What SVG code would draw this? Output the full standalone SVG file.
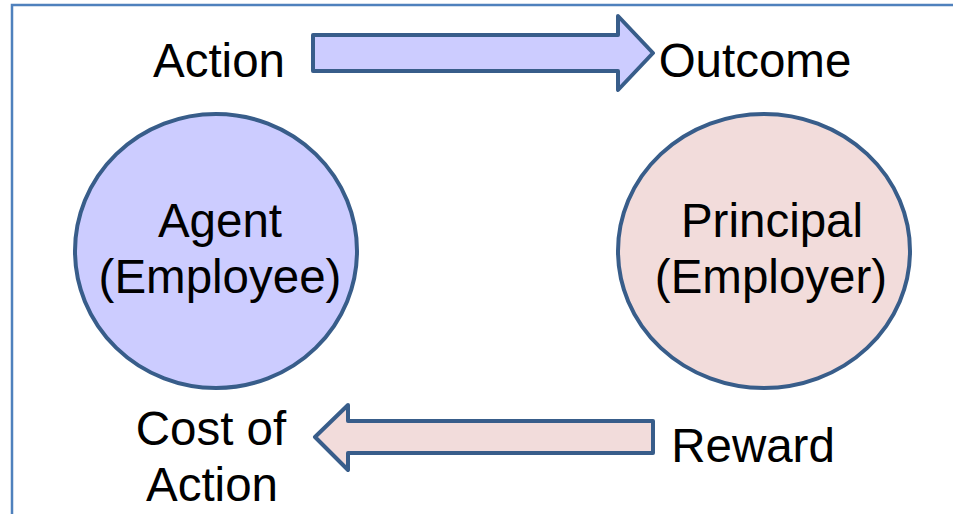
<svg xmlns="http://www.w3.org/2000/svg" width="953" height="514" viewBox="0 0 953 514">
<style>
.t{font-family:"Liberation Sans",Arial,sans-serif;font-size:47.5px;fill:#000;text-anchor:middle}
.node{stroke:#385D8A;stroke-width:4}
.arr{stroke:#385D8A;stroke-width:4;stroke-linejoin:round}
</style>
<rect width="953" height="514" fill="#fff"/>
<g id="frame" fill="none" stroke="#4F81BD" stroke-width="2.5">
<path d="M12,514 V5 H953"/>
</g>
<g id="connectors">
<path class="arr" fill="#CCCCFF" d="M313,35 H618 V16 L653,53 L618,90 V71 H313 Z"/>
<path class="arr" fill="#F2DCDB" d="M653,421 H348 V405 L315,437 L348,470 V453 H653 Z"/>
</g>
<g id="agent">
<ellipse class="node" cx="216" cy="251" rx="141" ry="137" fill="#CCCCFF"/>
<text class="t" x="220" y="237">Agent</text>
<text class="t" x="220" y="293">(Employee)</text>
</g>
<g id="principal">
<ellipse class="node" cx="764" cy="251" rx="146" ry="137" fill="#F2DCDB"/>
<text class="t" x="772" y="237">Principal</text>
<text class="t" x="771" y="293">(Employer)</text>
</g>
<g id="action"><text class="t" x="219" y="77">Action</text></g>
<g id="outcome"><text class="t" x="755" y="77">Outcome</text></g>
<g id="cost"><text class="t" x="211" y="445">Cost of</text><text class="t" x="212" y="501">Action</text></g>
<g id="reward"><text class="t" x="753" y="462">Reward</text></g>
</svg>
